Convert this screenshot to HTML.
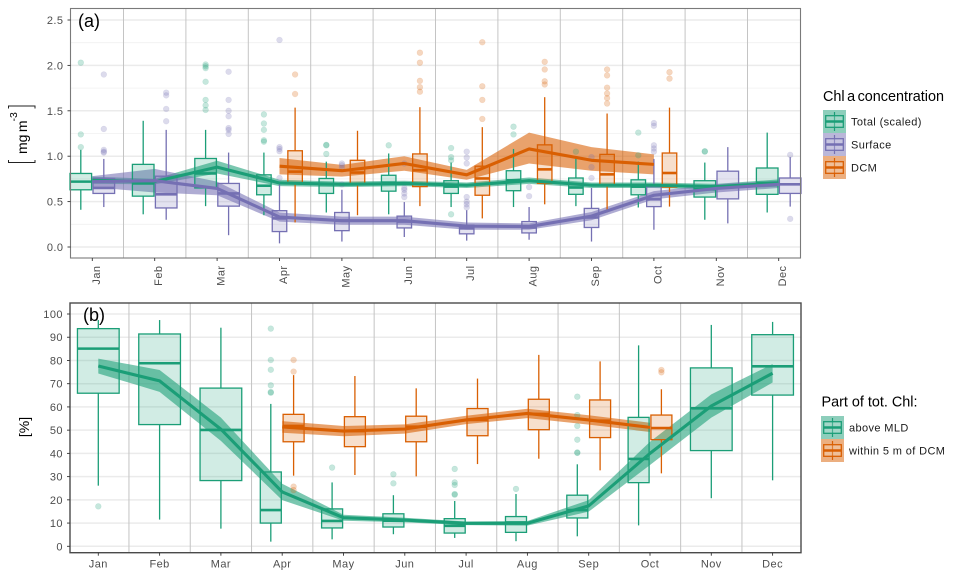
<!DOCTYPE html>
<html lang="en">
<head>
<meta charset="utf-8">
<title>Chl a concentration by month</title>
<style>
html,body{margin:0;padding:0;background:#fff;}
body{width:953px;height:578px;overflow:hidden;}
svg{display:block;font-family:"Liberation Sans",sans-serif;}
.tick{font-size:11px;fill:#4d4d4d;letter-spacing:.45px;}
.leg{font-size:11px;fill:#1a1a1a;letter-spacing:.38px;}
.ttl{font-size:14.4px;fill:#000;}
</style>
</head>
<body>
<svg id="chart" width="953" height="578" viewBox="0 0 953 578" xmlns="http://www.w3.org/2000/svg">
  <rect x="0" y="0" width="953" height="578" fill="#fff"/>
  <g id="panelA"></g>
  <g id="panelB"></g>
  <g>
    <path d="M8.5 160V162.5H35V160" fill="none" stroke="#222" stroke-width="1"/>
    <path d="M8.5 108.5V106H35V108.5" fill="none" stroke="#222" stroke-width="1"/>
    <text transform="translate(27,154) rotate(-90)" font-size="14" word-spacing="-1.5" fill="#000">mg m</text>
    <text transform="translate(17,121.5) rotate(-90)" font-size="10.5" fill="#000">-3</text>
  </g>
  <text transform="translate(29,427) rotate(-90)" text-anchor="middle" font-size="14" fill="#000">[%]</text>
  <text x="78" y="27" font-size="18" fill="#000">(a)</text>
  <text x="83" y="321" font-size="18" fill="#000">(b)</text>
  <g>
    <text class="ttl" x="823" y="101" word-spacing="-1.5">Chl a concentration</text>
    <g id="legendA"></g>
  </g>
  <g>
    <text class="ttl" x="821.5" y="406.5">Part of tot. Chl:</text>
    <g id="legendB"></g>
  </g>
</svg>
<script>
const months = ['Jan','Feb','Mar','Apr','May','Jun','Jul','Aug','Sep','Oct','Nov','Dec'];
const yTicksA = [0,0.5,1,1.5,2,2.5];
const yTickLabelsA = ['0.0','0.5','1.0','1.5','2.0','2.5'];
const yMinorA = [0.25,0.75,1.25,1.75,2.25];
const yTicksB = [0,10,20,30,40,50,60,70,80,90,100];

/* Panel (a): Total */
const aTotalLow  = [0.41,0.36,0.45,0.35,0.38,0.36,0.44,0.44,0.45,0.435,0.30,0.38];
const aTotalQ1   = [0.63,0.56,0.65,0.575,0.59,0.615,0.59,0.62,0.58,0.575,0.55,0.58];
const aTotalMed  = [0.72,0.70,0.81,0.675,0.69,0.705,0.665,0.735,0.655,0.665,0.635,0.705];
const aTotalQ3   = [0.81,0.91,0.975,0.795,0.755,0.79,0.73,0.84,0.76,0.74,0.73,0.87];
const aTotalHigh = [1.07,1.39,1.29,1.04,0.94,1.03,0.93,1.08,0.99,0.94,0.93,1.26];
const aTotalOut  = [[1.10,1.24,2.03],[],[1.51,1.56,1.62,1.82,1.97,1.99,2.01],[1.16,1.175,1.29,1.36,1.46],[1.025,1.12,1.125],[1.12],[0.36,0.955,0.99,1.09],[1.24,1.325],[1.05],[1.01,1.26],[1.05,1.055],[]];
const aTotalLine = [0.735,0.72,0.88,0.705,0.69,0.70,0.68,0.73,0.68,0.68,0.665,0.705];
const aTotalBandLow  = [0.695,0.69,0.81,0.67,0.66,0.67,0.65,0.695,0.65,0.65,0.635,0.665];
const aTotalBandHigh = [0.775,0.75,0.95,0.74,0.72,0.73,0.71,0.765,0.71,0.71,0.695,0.745];

/* Panel (a): Surface */
const aSurfaceLow  = [0.44,0.30,0.13,0.04,0.06,0.11,0.07,0.08,0.06,0.19,0.26,0.445];
const aSurfaceQ1   = [0.59,0.43,0.45,0.17,0.18,0.21,0.145,0.155,0.215,0.445,0.53,0.59];
const aSurfaceMed  = [0.65,0.58,0.59,0.315,0.29,0.28,0.205,0.215,0.325,0.525,0.665,0.69];
const aSurfaceQ3   = [0.755,0.78,0.70,0.40,0.38,0.34,0.24,0.28,0.425,0.665,0.835,0.76];
const aSurfaceHigh = [0.97,1.29,1.04,0.70,0.63,0.495,0.405,0.44,0.65,0.97,1.10,0.99];
const aSurfaceOut  = [[1.04,1.05,1.07,1.30,1.90],[1.385,1.52,1.67,1.70],[1.245,1.29,1.31,1.44,1.50,1.62,1.93],[0.76,1.055,1.08,1.10,2.28],[0.69,0.87,0.90,0.92],[0.55,0.59,0.63,0.65,0.92],[0.435,0.47,0.50,0.55,0.92,0.985,1.05],[0.56,0.66],[0.76,0.88,0.99],[1.05,1.085,1.12,1.335,1.365],[],[0.31,1.015]];
const aSurfaceLine = [0.72,0.73,0.645,0.33,0.29,0.29,0.23,0.225,0.34,0.57,0.645,0.69];
const aSurfaceBandLow  = [0.66,0.60,0.57,0.28,0.245,0.245,0.19,0.19,0.295,0.525,0.60,0.65];
const aSurfaceBandHigh = [0.78,0.86,0.72,0.38,0.335,0.335,0.27,0.26,0.385,0.615,0.69,0.73];

/* Panel (a): DCM */
const aDcmLow  = [null,null,null,0.27,0.35,0.45,0.315,0.47,0.38,0.445,null,null];
const aDcmQ1   = [null,null,null,0.70,0.695,0.665,0.57,0.70,0.68,0.66,null,null];
const aDcmMed  = [null,null,null,0.83,0.82,0.845,0.755,0.855,0.80,0.815,null,null];
const aDcmQ3   = [null,null,null,1.06,0.955,1.025,0.89,1.125,1.02,1.035,null,null];
const aDcmHigh = [null,null,null,1.535,1.28,1.54,1.32,1.65,1.47,1.535,null,null];
const aDcmOut  = [[],[],[],[1.685,1.90],[],[1.71,1.76,1.83,2.03,2.14],[1.41,1.62,1.77,2.255],[1.79,1.825,1.955,2.04],[1.58,1.64,1.69,1.755,1.89,1.955],[1.855,1.925],[],[]];
const aDcmLine = [null,null,null,0.89,0.84,0.92,0.795,1.08,0.955,0.91,null,null];
const aDcmBandLow  = [null,null,null,0.80,0.775,0.84,0.74,0.92,0.84,0.80,null,null];
const aDcmBandHigh = [null,null,null,0.98,0.905,1.00,0.85,1.26,1.10,1.02,null,null];

/* Panel (b): above MLD */
const bMldLow  = [26.1,11.5,7.6,2,3,5.2,3.6,2.2,4.3,9,20.7,28.4];
const bMldQ1   = [65.9,52.4,28.3,10,7.9,8.3,5.7,6,12.2,27.4,41.2,65.1];
const bMldMed  = [85.1,78.8,50.1,15.6,10.9,11,8.8,10.2,15.6,37.6,59.4,77.5];
const bMldQ3   = [93.7,91.4,68.1,32,16.1,14,11.9,12.8,22,55.5,76.8,91.1];
const bMldHigh = [97.4,97.4,94.1,61.3,27.5,22,19.5,22.5,35.3,86.5,95.3,96.6];
const bMldOut  = [[17.2],[],[],[66.1,66.4,69.3,76,80.2,93.7],[33.9],[27.1,31],[22.2,22.5,26.4,27.5,33.3],[24.7],[40.2,40.4,45.9,51.8,56.5,64.4],[],[],[]];
const bMldLine = [77.6,71.2,50.4,23.4,12.3,11.3,9.9,9.9,17.4,40,60.4,74.5];
const bMldBandLow  = [74.4,66.5,45.4,19.9,11,10.3,9.1,8.9,14.9,35,55.4,70.5];
const bMldBandHigh = [80.8,75.9,55.4,26.9,13.6,12.3,10.7,10.9,19.9,45,65.4,78.5];

/* Panel (b): within 5 m of DCM */
const bDcmLow  = [null,null,null,30.4,30.7,30.1,35.4,37.7,32.7,31.4,null,null];
const bDcmQ1   = [null,null,null,45,42.9,45,47.6,50.2,46.8,45.9,null,null];
const bDcmMed  = [null,null,null,51.8,49.6,51.5,54.4,57,54.1,50.9,null,null];
const bDcmQ3   = [null,null,null,56.8,55.8,56,59.3,63.3,63,56.5,null,null];
const bDcmHigh = [null,null,null,73.7,73.3,68,72.2,82.4,79.6,67.6,null,null];
const bDcmOut  = [[],[],[],[24.2,25.7,75.2,80.2],[],[],[],[],[],[74.9,75.9],[],[]];
const bDcmLine = [null,null,null,51.4,49.6,50.5,54.4,57.2,54.4,51.2,null,null];
const bDcmBandLow  = [null,null,null,48.9,47.4,48.5,52.6,55.2,52.4,49.2,null,null];
const bDcmBandHigh = [null,null,null,53.9,51.8,52.5,56.2,59.2,56.4,53.2,null,null];

const GREEN = '#1B9E77', PURPLE = '#7570B3', ORANGE = '#D95F02';

const NS = 'http://www.w3.org/2000/svg';
function make(parent, tag, attrs) {
  const el = document.createElementNS(NS, tag);
  for (const k in attrs) el.setAttribute(k, attrs[k]);
  
  parent.appendChild(el);
  return el;
}

/* axis functions */
const xA = i => 92.3 + 62.4 * i;
const yA = v => 247 - 90.8 * v;
const xB = i => 98.3 + 61.3 * i;
const yB = v => 546.3 - 2.323 * v;

const seriesA = [
  {key:'total', color:GREEN, low:aTotalLow, q1:aTotalQ1, med:aTotalMed, q3:aTotalQ3, high:aTotalHigh, out:aTotalOut, line:aTotalLine, bandLow:aTotalBandLow, bandHigh:aTotalBandHigh},
  {key:'surface', color:PURPLE, low:aSurfaceLow, q1:aSurfaceQ1, med:aSurfaceMed, q3:aSurfaceQ3, high:aSurfaceHigh, out:aSurfaceOut, line:aSurfaceLine, bandLow:aSurfaceBandLow, bandHigh:aSurfaceBandHigh},
  {key:'dcm', color:ORANGE, low:aDcmLow, q1:aDcmQ1, med:aDcmMed, q3:aDcmQ3, high:aDcmHigh, out:aDcmOut, line:aDcmLine, bandLow:aDcmBandLow, bandHigh:aDcmBandHigh}
];
const seriesB = [
  {key:'above-mld', color:GREEN, low:bMldLow, q1:bMldQ1, med:bMldMed, q3:bMldQ3, high:bMldHigh, out:bMldOut, line:bMldLine, bandLow:bMldBandLow, bandHigh:bMldBandHigh},
  {key:'within-dcm', color:ORANGE, low:bDcmLow, q1:bDcmQ1, med:bDcmMed, q3:bDcmQ3, high:bDcmHigh, out:bDcmOut, line:bDcmLine, bandLow:bDcmBandLow, bandHigh:bDcmBandHigh}
];

function dodge(series, s, i, layout) {
  const present = series.filter(d => d.q1[i] !== null);
  const n = present.length;
  const idx = present.indexOf(s);
  const o = layout[n];
  return {off: (idx - (n - 1) / 2) * o.step, w: o.w};
}

function drawPanel(g, name, series, xf, yf, rect, layout, strokes) {
  /* background grid */
  (name === 'a' ? yMinorA : []).forEach(v => {
    const gl = make(g, 'line', {x1:rect.l, x2:rect.r, y1:yf(v), y2:yf(v), stroke:'#f0f0f0', 'stroke-width':0.8});
    
  });
  (name === 'a' ? yTicksA : yTicksB).forEach(v => {
    const gl = make(g, 'line', {x1:rect.l, x2:rect.r, y1:yf(v), y2:yf(v), stroke:'#ebebeb', 'stroke-width':1.5});
    
  });
  months.slice(0, -1).forEach((m, i) => {
    const x = (xf(i) + xf(i + 1)) / 2;
    const vl = make(g, 'line', {x1:x, x2:x, y1:rect.t, y2:rect.b, stroke:'#c4c4c4', 'stroke-width':1});
    
  });

  /* ribbons */
  series.forEach(s => {
    const idx = months.map((m, i) => i).filter(i => s.line[i] !== null);
    const pts = idx.map(i => xf(i) + ',' + yf(s.bandHigh[i]))
      .concat(idx.slice().reverse().map(i => xf(i) + ',' + yf(s.bandLow[i])));
    const rb = make(g, 'polygon', {points:pts.join(' '), fill:s.color, 'fill-opacity':0.58});
    
  });

  /* boxes and outliers */
  series.forEach(s => {
    months.forEach((m, i) => {
      if (s.q1[i] === null) return;
      const d = dodge(series, s, i, layout);
      const cx = xf(i) + d.off;
      const hw = d.w / 2;
      const wt = make(g, 'line', {x1:cx, x2:cx, y1:yf(s.high[i]), y2:yf(s.q3[i]), stroke:s.color, 'stroke-width':strokes.box});
      
      const wb = make(g, 'line', {x1:cx, x2:cx, y1:yf(s.q1[i]), y2:yf(s.low[i]), stroke:s.color, 'stroke-width':strokes.box});
      
      const bx = make(g, 'rect', {x:cx - hw, y:yf(s.q3[i]), width:d.w, height:yf(s.q1[i]) - yf(s.q3[i]), fill:s.color, 'fill-opacity':0.2, stroke:s.color, 'stroke-width':strokes.box});
      
      const md = make(g, 'line', {x1:cx - hw, x2:cx + hw, y1:yf(s.med[i]), y2:yf(s.med[i]), stroke:s.color, 'stroke-width':strokes.med});
      
      s.out[i].forEach(v => {
        const c = make(g, 'circle', {cx:cx, cy:yf(v), r:2.9, fill:s.color, 'fill-opacity':0.25, stroke:s.color, 'stroke-opacity':0.14, 'stroke-width':0.6});
        
      });
    });
  });

  /* mean lines */
  series.forEach(s => {
    const idx = months.map((m, i) => i).filter(i => s.line[i] !== null);
    const pl = make(g, 'polyline', {points:idx.map(i => xf(i) + ',' + yf(s.line[i])).join(' '), fill:'none', stroke:s.color, 'stroke-width':3.1, 'stroke-linejoin':'round'});
    
  });

  /* border */
  const bd = make(g, 'rect', {x:rect.l, y:rect.t, width:rect.r - rect.l, height:rect.b - rect.t, fill:'none', stroke:rect.border, 'stroke-width':rect.bw});
  

  /* y axis */
  const ticks = name === 'a' ? yTicksA : yTicksB;
  ticks.forEach((v, k) => {
    const tk = make(g, 'line', {x1:rect.l - 3, x2:rect.l, y1:yf(v), y2:yf(v), stroke:'#333', 'stroke-width':0.9});
    
    const lb = make(g, 'text', {x:rect.l - 7, y:yf(v) + 4, 'text-anchor':'end', class:'tick'});
    
    lb.textContent = name === 'a' ? yTickLabelsA[k] : String(v);
  });

  /* x axis */
  months.forEach((m, i) => {
    const x = xf(i);
    const tk = make(g, 'line', {x1:x, x2:x, y1:rect.b, y2:rect.b + 3, stroke:'#333', 'stroke-width':0.9});
    
    const lb = make(g, 'text', {class:'tick'});
    
    lb.textContent = m;
    if (name === 'a') {
      lb.setAttribute('text-anchor', 'end');
      lb.setAttribute('transform', 'translate(' + (x + 7.5) + ',' + (rect.b + 7.5) + ') rotate(-90)');
    } else {
      lb.setAttribute('text-anchor', 'middle');
      lb.setAttribute('x', x);
      lb.setAttribute('y', rect.b + 15);
    }
  });
}

function drawLegend(g, entries, x, y0) {
  entries.forEach((e, k) => {
    const y = y0 + k * 23;
    const bg = make(g, 'rect', {x:x, y:y, width:23, height:23, fill:e.color, 'fill-opacity':0.5});
    
    const cx = x + 11.5;
    const wh = make(g, 'line', {x1:cx, x2:cx, y1:y + 2, y2:y + 21, stroke:e.color, 'stroke-width':1.2});
    
    const bx = make(g, 'rect', {x:x + 2.7, y:y + 5.7, width:17.6, height:11.6, fill:'#fff', 'fill-opacity':0.2, stroke:e.color, 'stroke-width':1.3});
    
    const md = make(g, 'line', {x1:x + 2.7, x2:x + 20.3, y1:y + 11.5, y2:y + 11.5, stroke:e.color, 'stroke-width':2.6});
    
    const tx = make(g, 'text', {x:x + 28, y:y + 15.3, class:'leg'});
    
    tx.textContent = e.label;
  });
}

const rectA = {l:70.5, r:800.5, t:8.5, b:258, border:'#7a7a7a', bw:1.1};
const rectB = {l:70, r:801, t:303, b:552.7, border:'#4a4a4a', bw:1.4};
const layoutA = {2:{step:23, w:21.6}, 3:{step:15.6, w:14.5}};
const layoutB = {1:{step:0, w:41.7}, 2:{step:22.8, w:21}};

drawPanel(document.getElementById('panelA'), 'a', seriesA, xA, yA, rectA, layoutA, {box:1.3, med:2.6});
drawPanel(document.getElementById('panelB'), 'b', seriesB, xB, yB, rectB, layoutB, {box:1.3, med:2.6});

drawLegend(document.getElementById('legendA'), [
  {key:'total', color:GREEN, label:'Total (scaled)'},
  {key:'surface', color:PURPLE, label:'Surface'},
  {key:'dcm', color:ORANGE, label:'DCM'}
], 823, 110);
drawLegend(document.getElementById('legendB'), [
  {key:'above-mld', color:GREEN, label:'above MLD'},
  {key:'within-dcm', color:ORANGE, label:'within 5 m of DCM'}
], 821, 416);
</script>
</body>
</html>
